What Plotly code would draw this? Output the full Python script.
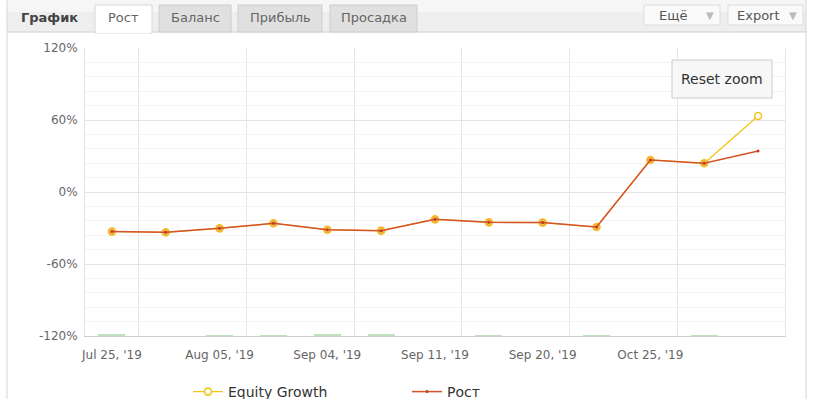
import plotly.graph_objects as go

# ---- data ----
x_idx = list(range(13))
tick_positions = [0, 2, 4, 6, 8, 10]
tick_labels = ["Jul 25, '19", "Aug 05, '19", "Sep 04, '19", "Sep 11, '19", "Sep 20, '19", "Oct 25, '19"]
rost = [-33.0, -33.6, -30.3, -26.1, -31.4, -32.2, -22.8, -25.3, -25.5, -29.2, 26.7, 23.9, 34.2]
equity = [-33.0, -33.6, -30.3, -26.1, -31.4, -32.2, -22.8, -25.3, -25.5, -29.2, 26.7, 23.9, 63.3]
volume = [1.5, 0, 1.0, 1.0, 1.5, 1.5, 0, 1.0, 0, 1.0, 0, 1.0, 0]
y_ticks = [-120, -60, 0, 60, 120]
y_labels = ["-120%", "-60%", "0%", "60%", "120%"]

W, H = 813, 399
L, R, T, B = 85, 785, 48, 336
FONT = "DejaVu Sans"

def px(x):
    return (x - L) / (R - L)

def py(y):
    return (B - y) / (B - T)

fig = go.Figure()

fig.add_trace(go.Bar(x=x_idx, y=volume, yaxis="y2", width=0.5,
                     marker=dict(color="rgba(140,200,140,0.55)", line=dict(width=0)),
                     showlegend=False, hoverinfo="skip"))

fig.add_trace(go.Scatter(x=x_idx, y=equity, mode="lines+markers", name="Equity Growth",
                         line=dict(color="#f2c41c", width=1.3),
                         marker=dict(symbol="circle", size=7, color="white",
                                     line=dict(color="#f2c41c", width=1.6))))
fig.add_trace(go.Scatter(x=x_idx[:12], y=equity[:12], mode="markers", showlegend=False,
                         marker=dict(symbol="circle", size=7, color="rgba(247,170,50,0.85)",
                                     line=dict(width=0)), hoverinfo="skip"))
fig.add_trace(go.Scatter(x=x_idx, y=rost, mode="lines+markers", name="Рост",
                         line=dict(color="#d4532b", width=1.5),
                         marker=dict(symbol="circle", size=3, color="#b8401e")))

shapes = []
annotations = []

def rect(x0, y0, x1, y1, fill, line="#cfcfcf", lw=1):
    shapes.append(dict(type="rect", xref="paper", yref="paper",
                       x0=px(x0), x1=px(x1), y0=py(y1), y1=py(y0),
                       fillcolor=fill, line=dict(color=line, width=lw), layer="above"))

def hline(x0, x1, y, color):
    shapes.append(dict(type="line", xref="paper", yref="paper",
                       x0=px(x0), x1=px(x1), y0=py(y), y1=py(y),
                       line=dict(color=color, width=1), layer="above"))

def vline(x, y0, y1, color):
    shapes.append(dict(type="line", xref="paper", yref="paper",
                       x0=px(x), x1=px(x), y0=py(y0), y1=py(y1),
                       line=dict(color=color, width=1), layer="above"))

def text(x, y, s, size=13, color="#555", bold=False, anchor="center"):
    annotations.append(dict(xref="paper", yref="paper", x=px(x), y=py(y),
                            text=("<b>%s</b>" % s) if bold else s, showarrow=False,
                            xanchor=anchor, yanchor="middle",
                            font=dict(family=FONT, size=size, color=color)))

# header bar (gradient-ish)
rect(7, -1, 806, 12, "#f6f6f6", line="rgba(0,0,0,0)", lw=0)
rect(7, 12, 806, 32, "#eeeeee", line="rgba(0,0,0,0)", lw=0)
hline(7, 806, 32, "#d0d0d0")
vline(7, 0, 399, "#d6d6d6")
vline(806, 0, 399, "#d6d6d6")

# tabs
text(49, 17, "График", size=13, color="#444", bold=True)
for (a, b, lab) in [(159, 231, "Баланс"), (238, 322, "Прибыль"), (330, 417, "Просадка")]:
    rect(a, 5, b, 32, "#e0e0e0", line="#cdcdcd")
    text((a + b) / 2, 18, lab, size=13, color="#666")
rect(95, 5, 152, 33, "#ffffff", line="#d6d6d6")
hline(96, 151, 32.6, "#ffffff")
text(123.5, 18, "Рост", size=13, color="#666")

# right buttons
for (a, b, lab, tx) in [(644, 720, "Ещё", 673), (728, 803, "Export", 758)]:
    rect(a, 5, b, 25, "#fafafa", line="#dcdcdc")
    text(tx, 15, lab, size=13, color="#555")
    text(b - 10, 15, "▼", size=10, color="#bbbbbb")

# reset zoom button
rect(672, 60, 772, 98, "#f7f7f7", line="#cccccc")
text(722, 79, "Reset zoom", size=14, color="#333")

fig.update_layout(
    width=W, height=H,
    margin=dict(l=L, r=W - R, t=T, b=H - B, autoexpand=False),
    paper_bgcolor="white", plot_bgcolor="white",
    font=dict(family=FONT, size=12, color="#666"),
    bargap=0,
    shapes=shapes, annotations=annotations,
    legend=dict(orientation="h", xref="container", yref="container",
                x=188 / W, y=1 - 392 / H, xanchor="left", yanchor="middle",
                font=dict(family=FONT, size=14, color="#333"), entrywidth=174,
                bgcolor="rgba(0,0,0,0)"),
    xaxis=dict(range=[-0.5, 12.5], tickmode="array", tickvals=tick_positions, ticktext=tick_labels,
               showgrid=False, zeroline=False, ticks="", showline=True, linecolor="#cfcfcf",
               tickfont=dict(family=FONT, size=12, color="#666"), ticklabelstandoff=8,
               minor=dict(tickvals=[p + 0.5 for p in tick_positions], showgrid=True,
                          gridcolor="#e6e6e6", gridwidth=1, ticks="")),
    yaxis=dict(range=[-120, 120], tickmode="array", tickvals=y_ticks, ticktext=y_labels,
               showgrid=True, gridcolor="#e4e4e4", zeroline=False, ticks="",
               showline=True, mirror=True, linecolor="#e6e6e6",
               tickfont=dict(family=FONT, size=12, color="#666"), ticklabelstandoff=4,
               minor=dict(tick0=0, dtick=12, showgrid=True, gridcolor="#f3f3f3", ticks="")),
    yaxis2=dict(range=[0, 200], overlaying="y", visible=False),
)

fig.write_html("out.html")
